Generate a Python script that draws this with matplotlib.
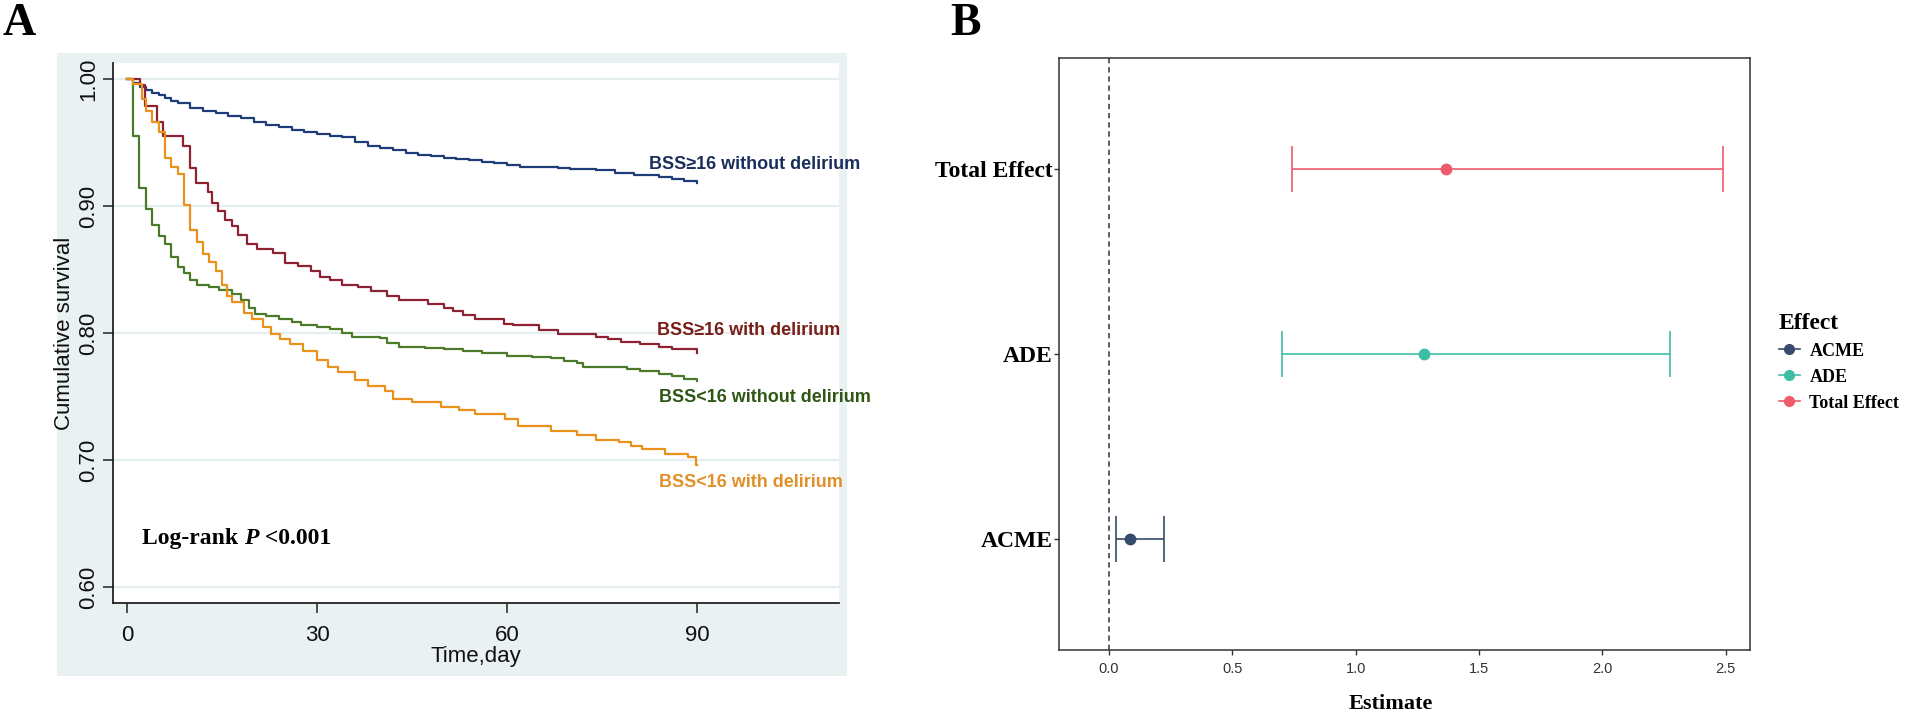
import matplotlib
matplotlib.use("Agg")
import matplotlib.pyplot as plt
from matplotlib.patches import Rectangle
from matplotlib.lines import Line2D
import numpy as np

# ---- panel A: Kaplan-Meier curves (day, survival) ----
hi_nodel_t = [0, 1, 2, 3, 4, 5, 6, 7, 8, 10, 12, 14, 16, 18, 20, 22, 24, 26, 28, 30,
              32, 34, 36, 38, 40, 42, 44, 46, 48, 50, 52, 54, 56, 58, 60, 62, 66, 68,
              70, 74, 77, 80, 84, 86, 88, 90]
hi_nodel_s = [1.000, 0.997, 0.994, 0.991, 0.989, 0.987, 0.985, 0.983, 0.981, 0.977,
              0.975, 0.973, 0.971, 0.969, 0.966, 0.964, 0.962, 0.960, 0.958, 0.957,
              0.955, 0.954, 0.950, 0.947, 0.946, 0.944, 0.942, 0.940, 0.939, 0.938,
              0.937, 0.936, 0.935, 0.934, 0.932, 0.931, 0.931, 0.930, 0.929, 0.928,
              0.926, 0.924, 0.923, 0.921, 0.920, 0.918]

hi_del_t = [0, 2.0, 2.9, 4.7, 5.7, 8.9, 9.9, 10.9, 12.8, 13.4, 14.3, 15.5, 16.5, 17.5,
            19.0, 20.5, 23.0, 25.0, 27.0, 29.0, 30.5, 32.0, 34.0, 36.5, 38.5, 41.0,
            43.0, 47.5, 50.0, 51.5, 53.0, 55.0, 59.5, 61.0, 65.0, 68.0, 74.0, 76.0,
            78.0, 81.0, 84.0, 86.0, 90.0]
hi_del_s = [1.000, 0.995, 0.979, 0.966, 0.955, 0.947, 0.930, 0.918, 0.911, 0.902,
            0.896, 0.889, 0.884, 0.877, 0.870, 0.866, 0.863, 0.855, 0.853, 0.849,
            0.844, 0.842, 0.838, 0.836, 0.833, 0.829, 0.826, 0.823, 0.820, 0.817,
            0.814, 0.811, 0.807, 0.806, 0.802, 0.799, 0.797, 0.795, 0.793, 0.791,
            0.789, 0.787, 0.784]

lo_nodel_t = [0, 0.9, 1.95, 3.0, 4.0, 5.0, 6.0, 7.0, 8.0, 9.0, 10.0, 11.0, 13.0, 14.5,
              16.5, 18.0, 19.2, 20.2, 22.0, 24.0, 26.0, 27.5, 30.0, 32.0, 34.0, 35.5,
              40.0, 41.0, 43.0, 47.0, 50.0, 53.0, 56.0, 60.0, 64.0, 67.0, 69.0, 71.0,
              72.0, 79.0, 81.0, 84.0, 86.0, 88.0, 90.0]
lo_nodel_s = [1.000, 0.955, 0.914, 0.898, 0.885, 0.876, 0.870, 0.860, 0.852, 0.847,
              0.842, 0.838, 0.836, 0.834, 0.831, 0.826, 0.820, 0.815, 0.813, 0.811,
              0.809, 0.806, 0.805, 0.803, 0.800, 0.797, 0.796, 0.792, 0.789, 0.788,
              0.787, 0.786, 0.784, 0.782, 0.781, 0.780, 0.778, 0.776, 0.773, 0.772,
              0.770, 0.768, 0.766, 0.764, 0.762]

lo_del_t = [0, 1.0, 2.4, 3.0, 4.0, 5.0, 6.0, 7.0, 8.0, 9.0, 10.0, 11.0, 12.0, 13.0,
            14.0, 15.0, 15.8, 16.6, 18.4, 19.8, 21.5, 22.8, 24.2, 25.7, 27.8, 30.0,
            31.8, 33.3, 36.0, 38.0, 40.8, 42.0, 45.0, 49.5, 52.4, 55.0, 59.6, 61.8,
            67.0, 71.0, 74.0, 77.7, 79.5, 81.3, 85.0, 88.5, 89.8, 90.0]
lo_del_s = [1.000, 0.996, 0.984, 0.975, 0.966, 0.958, 0.938, 0.931, 0.925, 0.901,
            0.881, 0.872, 0.862, 0.856, 0.849, 0.838, 0.829, 0.824, 0.816, 0.811,
            0.805, 0.799, 0.795, 0.791, 0.786, 0.779, 0.773, 0.769, 0.763, 0.758,
            0.754, 0.748, 0.746, 0.742, 0.739, 0.736, 0.732, 0.727, 0.723, 0.720,
            0.716, 0.714, 0.711, 0.709, 0.705, 0.702, 0.696, 0.696]

km_labels = ["BSS\u226516 without delirium", "BSS\u226516 with delirium",
             "BSS<16 without delirium", "BSS<16 with delirium"]
x_ticks_a = [0, 30, 60, 90]
y_ticks_a = [0.60, 0.70, 0.80, 0.90, 1.00]

# ---- panel B: mediation effects ----
effects = ["ACME", "ADE", "Total Effect"]
est = [0.086, 1.278, 1.364]
ci_low = [0.028, 0.700, 0.742]
ci_high = [0.223, 2.275, 2.488]
x_ticks_b = [0.0, 0.5, 1.0, 1.5, 2.0, 2.5]

eff_colors = ["#374C6C", "#3DBDA6", "#EE5B6B"]
km_line_colors = ["#1E3D78", "#8E2233", "#4C7A2A", "#EA911C"]
km_text_colors = ["#1A2E5C", "#7A1E18", "#2F5714", "#E0902A"]

SERIF = "Liberation Serif"
SANS = "Liberation Sans"
NARROW = ["Liberation Sans Narrow", "Liberation Sans", "DejaVu Sans"]

fig = plt.figure(figsize=(19.06, 7.13), dpi=100)

# light background behind panel A
fig.patches.append(Rectangle((0.0299, 0.0519), 0.4145, 0.8738, transform=fig.transFigure,
                             facecolor="#EAF1F3", edgecolor="none", zorder=-5))

axA = fig.add_axes([0.0593, 0.1543, 0.3809, 0.7574])
axA.set_zorder(1)
axA.set_facecolor("white")
curves = [(hi_nodel_t, hi_nodel_s), (hi_del_t, hi_del_s),
          (lo_nodel_t, lo_nodel_s), (lo_del_t, lo_del_s)]
for (t, s), c in zip(curves, km_line_colors):
    axA.plot(t, s, drawstyle="steps-post", color=c, lw=1.6, zorder=3)

axA.set_xlim(-2.21, 112.4)
axA.set_ylim(0.5874, 1.0126)
axA.set_xticks(x_ticks_a)
axA.set_yticks(y_ticks_a)
axA.set_yticklabels(["%.2f" % v for v in y_ticks_a])
axA.yaxis.grid(True, color="#E4EDF0", lw=1.6, zorder=0)
axA.set_axisbelow(True)
for sp in ["top", "right"]:
    axA.spines[sp].set_visible(False)
for sp in ["left", "bottom"]:
    axA.spines[sp].set_color("#222222")
    axA.spines[sp].set_linewidth(1.3)
axA.tick_params(axis="both", length=7, width=1.1, color="#222222",
                labelsize=16, labelcolor="#111111")
axA.tick_params(axis="y", labelrotation=90, pad=3)
axA.tick_params(axis="x", pad=9)
for lab in axA.get_yticklabels():
    lab.set_fontfamily(SANS)
    lab.set_va("center")
for lab in axA.get_xticklabels():
    lab.set_fontfamily(SANS)
axA.set_ylabel("Cumulative survival", fontsize=16, family=SANS, color="#111111", labelpad=2)
axA.set_xlabel("Time,day", fontsize=16, family=SANS, color="#111111", labelpad=0)

label_pos = [(82.4, 0.933), (83.7, 0.8016), (84.0, 0.749), (84.0, 0.682)]
for (lx, ly), txt, c in zip(label_pos, km_labels, km_text_colors):
    axA.text(lx, ly, txt, color=c, fontsize=13, fontweight="bold", family=NARROW,
             ha="left", va="center")

t1 = axA.text(2.4, 0.638, "Log-rank ", fontsize=17, fontweight="bold", family=SERIF,
              ha="left", va="center")
t2 = axA.annotate("P", xy=(1, 0), xycoords=t1, fontsize=17, fontweight="bold",
                  style="italic", family=SERIF, ha="left", va="bottom")
axA.annotate(" <0.001", xy=(1, 0), xycoords=t2, fontsize=17, fontweight="bold",
             family=SERIF, ha="left", va="bottom")

# ---- panel B ----
axB = fig.add_axes([0.5556, 0.0884, 0.3625, 0.8303])
ypos = np.arange(1, len(effects) + 1)
axB.axvline(0, color="#333333", lw=1.1, ls=(0, (3.5, 2.5)), zorder=1)
for i in range(len(effects)):
    axB.errorbar(est[i], ypos[i], xerr=[[est[i] - ci_low[i]], [ci_high[i] - est[i]]],
                 fmt="o", color=eff_colors[i], ms=7.5, elinewidth=1.2, capsize=16.5,
                 capthick=1.2, zorder=3)
axB.set_xlim(-0.203, 2.598)
axB.set_ylim(0.4, 3.6)
axB.set_yticks(ypos)
axB.set_yticklabels(effects)
axB.set_xticks(x_ticks_b)
axB.set_xticklabels(["%.1f" % v for v in x_ticks_b])
for sp in axB.spines.values():
    sp.set_color("#333333")
    sp.set_linewidth(1.1)
axB.tick_params(axis="both", length=3.5, width=1.0, color="#333333")
axB.tick_params(axis="x", labelsize=10.5, labelcolor="#333333", pad=5)
axB.tick_params(axis="y", pad=1)
for lab in axB.get_xticklabels():
    lab.set_fontfamily(NARROW)
for lab in axB.get_yticklabels():
    lab.set_fontfamily(SERIF)
    lab.set_fontweight("bold")
    lab.set_fontsize(17)
axB.set_xlabel("Estimate", fontsize=16, fontweight="bold", family=SERIF, labelpad=15)
axB.xaxis.set_label_coords(0.48, -0.075)

handles = [Line2D([], [], color=c, marker="o", ms=7, lw=1.2) for c in eff_colors]
leg = fig.legend(handles, effects, title="Effect", loc="upper left",
                 bbox_to_anchor=(1766 / 1906, 1 - 300 / 713), frameon=False,
                 prop={"family": SERIF, "weight": "bold", "size": 13},
                 title_fontproperties={"family": SERIF, "weight": "bold", "size": 17},
                 handlelength=1.2, handletextpad=0.5, labelspacing=0.5,
                 borderpad=0.2)
leg._legend_box.align = "left"

fig.text(3 / 1906, 1 - 3 / 713, "A", fontsize=33, fontweight="bold", family=SERIF,
         ha="left", va="top")
fig.text(950 / 1906, 1 - 3 / 713, "B", fontsize=33, fontweight="bold", family=SERIF,
         ha="left", va="top")

fig.savefig("out.png", dpi=100, facecolor="white")
